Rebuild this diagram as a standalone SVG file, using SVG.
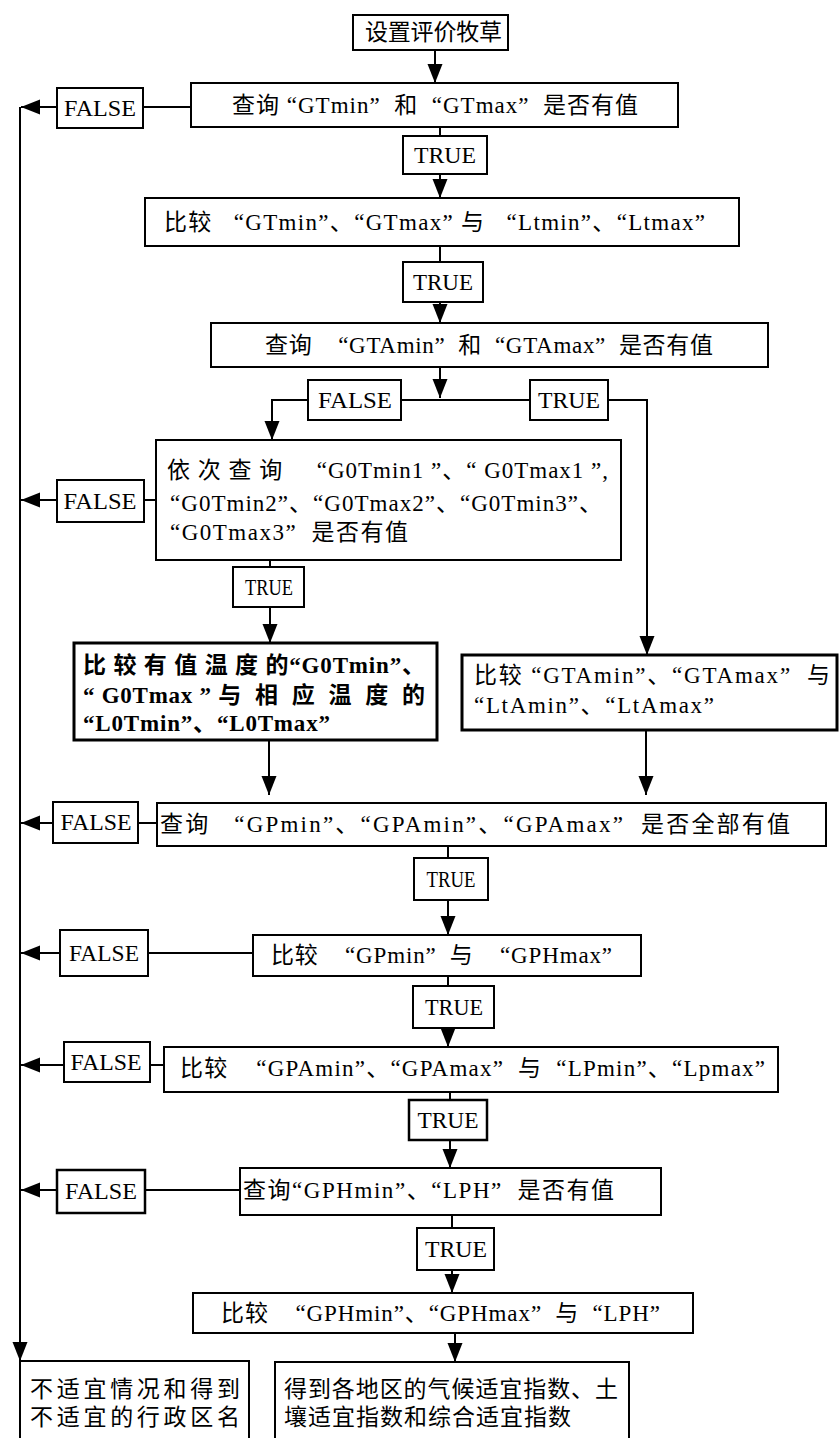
<svg xmlns="http://www.w3.org/2000/svg" width="840" height="1438" viewBox="0 0 840 1438">
<defs>
<style>
.box{fill:#fff;stroke:#000;stroke-width:2}
.thick{stroke-width:3}
.mid{stroke-width:2.5}
.t{font-family:"Liberation Serif","Noto Sans CJK SC",serif;font-size:23px;fill:#000;white-space:pre}
.b{font-weight:bold}
.lbl{font-family:"Liberation Serif",serif;font-size:23px;fill:#000;text-anchor:middle}
.ln{stroke:#000;stroke-width:2;fill:none}
</style>
<marker id="ah" markerUnits="userSpaceOnUse" markerWidth="20" markerHeight="16" refX="19" refY="7.5" orient="auto">
<path d="M0,0 L19,7.5 L0,15 z" fill="#000"/>
</marker>
</defs>
<rect width="840" height="1438" fill="#fff"/>

<g id="connectors">
<line class="ln" x1="435" y1="50" x2="435" y2="83" marker-end="url(#ah)"/>
<line class="ln" x1="191" y1="107" x2="143" y2="107"/>
<line class="ln" x1="57" y1="107" x2="21" y2="107" marker-end="url(#ah)"/>
<line class="ln" x1="20" y1="107" x2="20" y2="1361" marker-end="url(#ah)"/>
<line class="ln" x1="440" y1="127" x2="440" y2="136"/>
<line class="ln" x1="440" y1="174" x2="440" y2="198" marker-end="url(#ah)"/>
<line class="ln" x1="440" y1="246" x2="440" y2="262"/>
<line class="ln" x1="440" y1="302" x2="440" y2="323" marker-end="url(#ah)"/>
<line class="ln" x1="440" y1="367" x2="440" y2="398" marker-end="url(#ah)"/>
<line class="ln" x1="401" y1="400" x2="530" y2="400"/>
<polyline class="ln" points="308,400 272,400 272,440" marker-end="url(#ah)"/>
<polyline class="ln" points="608,400 647,400 647,655" marker-end="url(#ah)"/>
<line class="ln" x1="156" y1="500" x2="144" y2="500"/>
<line class="ln" x1="57" y1="500" x2="21" y2="500" marker-end="url(#ah)"/>
<line class="ln" x1="270" y1="560" x2="270" y2="567"/>
<line class="ln" x1="270" y1="607" x2="270" y2="643" marker-end="url(#ah)"/>
<line class="ln" x1="269" y1="740" x2="269" y2="795" marker-end="url(#ah)"/>
<line class="ln" x1="646" y1="730" x2="646" y2="795" marker-end="url(#ah)"/>
<line class="ln" x1="157" y1="823" x2="138" y2="823"/>
<line class="ln" x1="53" y1="823" x2="21" y2="823" marker-end="url(#ah)"/>
<line class="ln" x1="448" y1="846" x2="448" y2="858"/>
<line class="ln" x1="448" y1="900" x2="448" y2="935" marker-end="url(#ah)"/>
<line class="ln" x1="253" y1="953" x2="148" y2="953"/>
<line class="ln" x1="60" y1="953" x2="21" y2="953" marker-end="url(#ah)"/>
<line class="ln" x1="448" y1="976" x2="448" y2="986"/>
<line class="ln" x1="448" y1="1028" x2="448" y2="1047" marker-end="url(#ah)"/>
<line class="ln" x1="164" y1="1065" x2="150" y2="1065"/>
<line class="ln" x1="64" y1="1065" x2="21" y2="1065" marker-end="url(#ah)"/>
<line class="ln" x1="450" y1="1092" x2="450" y2="1100"/>
<line class="ln" x1="450" y1="1140" x2="450" y2="1168" marker-end="url(#ah)"/>
<line class="ln" x1="240" y1="1190" x2="145" y2="1190"/>
<line class="ln" x1="57" y1="1190" x2="21" y2="1190" marker-end="url(#ah)"/>
<line class="ln" x1="452" y1="1215" x2="452" y2="1228"/>
<line class="ln" x1="452" y1="1270" x2="452" y2="1293" marker-end="url(#ah)"/>
<line class="ln" x1="455" y1="1333" x2="455" y2="1362" marker-end="url(#ah)"/>
</g>

<g id="n-start"><rect class="box" x="353" y="15" width="155" height="35"/>
<text class="t" x="365" y="40" textLength="137" lengthAdjust="spacing">设置评价牧草</text></g>

<g id="n-q1"><rect class="box" x="191" y="83" width="487" height="44"/>
<text class="t" xml:space="preserve" x="232" y="113" textLength="406" lengthAdjust="spacing">查询 “GTmin”  和  “GTmax”  是否有值</text></g>
<g id="f1"><rect class="box" x="57" y="88" width="86" height="40"/>
<text class="lbl" x="100" y="116" textLength="72" lengthAdjust="spacingAndGlyphs">FALSE</text></g>
<g id="t1"><rect class="box" x="403" y="136" width="84" height="38"/>
<text class="lbl" x="445" y="163" textLength="62" lengthAdjust="spacingAndGlyphs">TRUE</text></g>

<g id="n-c1"><rect class="box" x="145" y="198" width="594" height="48"/>
<text class="t" xml:space="preserve" x="164" y="230" textLength="541" lengthAdjust="spacing">比较   “GTmin”、“GTmax” 与   “Ltmin”、“Ltmax”</text></g>
<g id="t2"><rect class="box" x="403" y="262" width="80" height="40"/>
<text class="lbl" x="443" y="290" textLength="60" lengthAdjust="spacingAndGlyphs">TRUE</text></g>

<g id="n-q2"><rect class="box" x="211" y="323" width="557" height="44"/>
<text class="t" xml:space="preserve" x="265" y="353" textLength="448" lengthAdjust="spacing">查询    “GTAmin”  和  “GTAmax”  是否有值</text></g>
<g id="f2"><rect class="box" x="308" y="380" width="93" height="40"/>
<text class="lbl" x="355" y="408" textLength="74" lengthAdjust="spacingAndGlyphs">FALSE</text></g>
<g id="t3"><rect class="box" x="530" y="380" width="78" height="40"/>
<text class="lbl" x="569" y="408" textLength="62" lengthAdjust="spacingAndGlyphs">TRUE</text></g>

<g id="n-q3"><rect class="box" x="156" y="440" width="465" height="120"/>
<text class="t" xml:space="preserve" x="167" y="478" textLength="441" lengthAdjust="spacing">依 次 查 询     “G0Tmin1 ”、“ G0Tmax1 ”,</text>
<text class="t" xml:space="preserve" x="170" y="511" textLength="432" lengthAdjust="spacing">“G0Tmin2”、“G0Tmax2”、“G0Tmin3”、</text>
<text class="t" xml:space="preserve" x="170" y="540" textLength="238" lengthAdjust="spacing">“G0Tmax3”  是否有值</text></g>
<g id="f3"><rect class="box" x="57" y="480" width="87" height="42"/>
<text class="lbl" x="100" y="509" textLength="73" lengthAdjust="spacingAndGlyphs">FALSE</text></g>
<g id="t4"><rect class="box" x="233" y="567" width="71" height="40"/>
<text class="lbl" x="269" y="595" textLength="48" lengthAdjust="spacingAndGlyphs">TRUE</text></g>

<g id="n-c2"><rect class="box thick" x="74" y="643" width="363" height="97"/>
<text class="t b" xml:space="preserve" x="83" y="673" textLength="342" lengthAdjust="spacing">比 较 有 值 温 度 的“G0Tmin”、</text>
<text class="t b" xml:space="preserve" x="83" y="703" textLength="342" lengthAdjust="spacing">“ G0Tmax ” 与  相  应  温  度  的</text>
<text class="t b" xml:space="preserve" x="83" y="731" textLength="247" lengthAdjust="spacing">“L0Tmin”、“L0Tmax”</text></g>

<g id="n-c3"><rect class="box thick" x="462" y="655" width="375" height="75"/>
<text class="t" xml:space="preserve" x="474" y="683" textLength="356" lengthAdjust="spacing">比较 “GTAmin”、“GTAmax”  与</text>
<text class="t" xml:space="preserve" x="474" y="713" textLength="240" lengthAdjust="spacing">“LtAmin”、“LtAmax”</text></g>

<g id="n-q4"><rect class="box" x="157" y="803" width="669" height="43"/>
<text class="t" xml:space="preserve" x="160" y="832" textLength="630" lengthAdjust="spacing">查询   “GPmin”、“GPAmin”、“GPAmax”  是否全部有值</text></g>
<g id="f4"><rect class="box" x="53" y="802" width="85" height="41"/>
<text class="lbl" x="96" y="830" textLength="71" lengthAdjust="spacingAndGlyphs">FALSE</text></g>
<g id="t5"><rect class="box" x="414" y="858" width="74" height="42"/>
<text class="lbl" x="451" y="887" textLength="49" lengthAdjust="spacingAndGlyphs">TRUE</text></g>

<g id="n-c4"><rect class="box" x="253" y="935" width="388" height="41"/>
<text class="t" xml:space="preserve" x="271" y="963" textLength="341" lengthAdjust="spacing">比较    “GPmin”  与    “GPHmax”</text></g>
<g id="f5"><rect class="box" x="60" y="930" width="88" height="46"/>
<text class="lbl" x="104" y="961" textLength="70" lengthAdjust="spacingAndGlyphs">FALSE</text></g>
<g id="t6"><rect class="box" x="413" y="986" width="81" height="42"/>
<text class="lbl" x="454" y="1015" textLength="58" lengthAdjust="spacingAndGlyphs">TRUE</text></g>

<g id="n-c5"><rect class="box" x="164" y="1047" width="614" height="45"/>
<text class="t" xml:space="preserve" x="180" y="1076" textLength="585" lengthAdjust="spacing">比较    “GPAmin”、“GPAmax”  与  “LPmin”、“Lpmax”</text></g>
<g id="f6"><rect class="box" x="64" y="1042" width="86" height="40"/>
<text class="lbl" x="106" y="1070" textLength="71" lengthAdjust="spacingAndGlyphs">FALSE</text></g>
<g id="t7"><rect class="box mid" x="409" y="1100" width="78" height="40"/>
<text class="lbl" x="448" y="1128" textLength="61" lengthAdjust="spacingAndGlyphs">TRUE</text></g>

<g id="n-q5"><rect class="box" x="240" y="1168" width="421" height="47"/>
<text class="t" xml:space="preserve" x="243" y="1198" textLength="371" lengthAdjust="spacing">查询“GPHmin”、“LPH”  是否有值</text></g>
<g id="f7"><rect class="box mid" x="57" y="1170" width="88" height="43"/>
<text class="lbl" x="101" y="1199" textLength="72" lengthAdjust="spacingAndGlyphs">FALSE</text></g>
<g id="t8"><rect class="box" x="417" y="1228" width="77" height="42"/>
<text class="lbl" x="456" y="1257" textLength="62" lengthAdjust="spacingAndGlyphs">TRUE</text></g>

<g id="n-c6"><rect class="box" x="193" y="1293" width="500" height="40"/>
<text class="t" xml:space="preserve" x="221" y="1321" textLength="439" lengthAdjust="spacing">比较    “GPHmin”、“GPHmax”  与  “LPH”</text></g>

<g id="n-end1"><rect class="box" x="20" y="1361" width="229" height="82"/>
<text class="t" x="30" y="1397" textLength="210" lengthAdjust="spacing">不适宜情况和得到</text>
<text class="t" x="30" y="1425" textLength="210" lengthAdjust="spacing">不适宜的行政区名</text></g>

<g id="n-end2"><rect class="box" x="275" y="1362" width="354" height="82"/>
<text class="t" x="284" y="1397" textLength="334" lengthAdjust="spacing">得到各地区的气候适宜指数、土</text>
<text class="t" x="284" y="1425" textLength="287" lengthAdjust="spacing">壤适宜指数和综合适宜指数</text></g>
</svg>
